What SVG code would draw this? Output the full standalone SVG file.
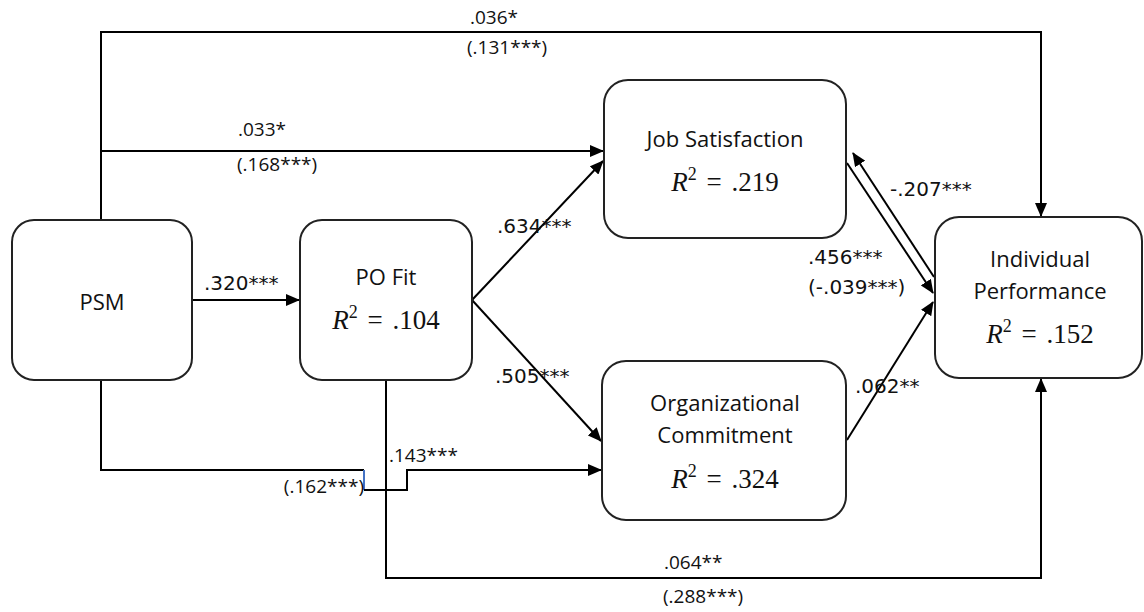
<svg xmlns="http://www.w3.org/2000/svg" width="1144" height="612" viewBox="0 0 1144 612">
<style>
.box{fill:#fff;stroke:#222;stroke-width:2}
.ln{fill:none;stroke:#000;stroke-width:2}
.nt{font-family:"Open Sans","Liberation Sans",sans-serif;font-size:22px;fill:#111;text-anchor:middle}
.rm{font-family:"Liberation Serif",serif;font-size:27px;fill:#111;text-anchor:middle;word-spacing:3px}
.lb{font-family:"Open Sans","Liberation Sans",sans-serif;font-size:19px;fill:#111}
.lb2{font-family:"DejaVu Sans",sans-serif;font-size:20px;fill:#111}
</style>
<defs>
<marker id="ah" markerUnits="userSpaceOnUse" markerWidth="14" markerHeight="12" refX="13" refY="6" orient="auto">
<path d="M0,0 L14,6 L0,12 z" fill="#000"/>
</marker>
</defs>
<g id="connectors">
<polyline class="ln" points="101,220 101,32 1041,32 1041,216" marker-end="url(#ah)"/>
<polyline class="ln" points="101,151 603,151" marker-end="url(#ah)"/>
<polyline class="ln" points="192,300 299,300" marker-end="url(#ah)"/>
<line class="ln" x1="472" y1="300" x2="603" y2="161" marker-end="url(#ah)"/>
<line class="ln" x1="472" y1="300" x2="601" y2="441" marker-end="url(#ah)"/>
<polyline class="ln" points="101,380 101,470 364,470"/>
<line x1="364" y1="470" x2="364" y2="490" stroke="#4472c4" stroke-width="2"/>
<polyline class="ln" points="364,490 407,490 407,470 601,470" marker-end="url(#ah)"/>
<polyline class="ln" points="386,380 386,578 1041,578 1041,379" marker-end="url(#ah)"/>
<line class="ln" x1="934" y1="277" x2="853" y2="153" marker-end="url(#ah)"/>
<line class="ln" x1="847" y1="163" x2="933" y2="293" marker-end="url(#ah)"/>
<line class="ln" x1="847" y1="440" x2="933" y2="302" marker-end="url(#ah)"/>
</g>
<g id="labels">
<text class="lb" x="470" y="24">.036*</text>
<text class="lb" x="467" y="54">(.131***)</text>
<text class="lb" x="238" y="136">.033*</text>
<text class="lb" x="237" y="171">(.168***)</text>
<text class="lb2" x="204" y="290">.320***</text>
<text class="lb2" x="497" y="233">.634***</text>
<text class="lb2" x="495" y="383">.505***</text>
<text class="lb2" x="890" y="196">-.207***</text>
<text class="lb2" x="808" y="264">.456***</text>
<text class="lb2" x="808" y="294">(-.039***)</text>
<text class="lb2" x="855" y="393">.062**</text>
<text class="lb" x="389" y="462">.143***</text>
<text class="lb" x="364" y="493" text-anchor="end">(.162***)</text>
<text class="lb" x="664" y="569">.064**</text>
<text class="lb" x="663" y="603">(.288***)</text>
</g>
<g id="psm">
<rect class="box" x="12" y="220" width="180" height="160" rx="22"/>
<text class="nt" x="102" y="310">PSM</text>
</g>
<g id="pofit">
<rect class="box" x="300" y="220" width="172" height="160" rx="22"/>
<text class="nt" x="386" y="285">PO Fit</text>
<text class="rm" x="386" y="329"><tspan font-style="italic">R</tspan><tspan font-size="18" dy="-11">2</tspan><tspan dy="11"> = .104</tspan></text>
</g>
<g id="jobsat">
<rect class="box" x="604" y="80" width="242" height="158" rx="24"/>
<text class="nt" x="725" y="147">Job Satisfaction</text>
<text class="rm" x="725" y="191"><tspan font-style="italic">R</tspan><tspan font-size="18" dy="-11">2</tspan><tspan dy="11"> = .219</tspan></text>
</g>
<g id="orgcom">
<rect class="box" x="602" y="361" width="244" height="159" rx="24"/>
<text class="nt" x="725" y="411">Organizational</text>
<text class="nt" x="725" y="443">Commitment</text>
<text class="rm" x="725" y="488"><tspan font-style="italic">R</tspan><tspan font-size="18" dy="-11">2</tspan><tspan dy="11"> = .324</tspan></text>
</g>
<g id="indperf">
<rect class="box" x="935" y="217" width="207" height="161" rx="24"/>
<text class="nt" x="1040" y="267">Individual</text>
<text class="nt" x="1040" y="299">Performance</text>
<text class="rm" x="1040" y="343"><tspan font-style="italic">R</tspan><tspan font-size="18" dy="-11">2</tspan><tspan dy="11"> = .152</tspan></text>
</g>
</svg>
